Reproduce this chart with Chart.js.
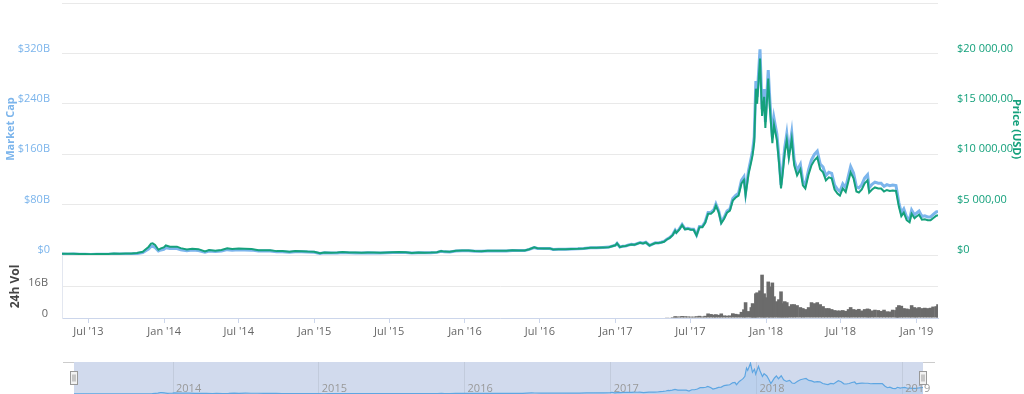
<!DOCTYPE html>
<html>
<head>
<meta charset="utf-8">
<script src="https://cdn.jsdelivr.net/npm/chart.js@4.4.1/dist/chart.umd.min.js"></script>
<style>
  html, body { margin: 0; padding: 0; background: #fff; overflow: hidden; }
  #main-wrap { position: absolute; left: 0; top: 0; width: 1024px; height: 345px; }
  #nav-wrap  { position: absolute; left: 0; top: 356px; width: 1024px; height: 50px; }
</style>
</head>
<body>
<div id="main-wrap"><canvas id="main-chart" width="1024" height="345"></canvas></div>
<div id="nav-wrap"><canvas id="nav-chart" width="1024" height="50"></canvas></div>
<script>
// ─── Data ───
const dates = [
  '2013-04-28','2013-05-12','2013-05-26','2013-06-09','2013-06-23','2013-07-07','2013-07-21','2013-08-04','2013-08-18','2013-09-01','2013-09-15','2013-09-29','2013-10-13','2013-10-27','2013-11-10','2013-11-18','2013-11-24','2013-11-30','2013-12-04','2013-12-10','2013-12-18','2013-12-24','2013-12-31',
  '2014-01-05','2014-01-15','2014-02-01','2014-02-10','2014-02-25','2014-03-10','2014-03-25','2014-04-10','2014-04-20','2014-05-05','2014-05-20','2014-06-03','2014-06-15','2014-07-01','2014-07-15','2014-08-01','2014-08-18','2014-09-01','2014-09-15','2014-10-01','2014-10-15','2014-11-01','2014-11-15','2014-12-01','2014-12-15','2014-12-31',
  '2015-01-14','2015-01-25','2015-02-10','2015-02-25','2015-03-10','2015-03-25','2015-04-10','2015-04-25','2015-05-10','2015-05-25','2015-06-10','2015-06-25','2015-07-10','2015-07-25','2015-08-10','2015-08-25','2015-09-10','2015-09-25','2015-10-10','2015-10-25','2015-11-04','2015-11-12','2015-11-25','2015-12-10','2015-12-25',
  '2016-01-10','2016-01-25','2016-02-10','2016-02-25','2016-03-10','2016-03-25','2016-04-10','2016-04-25','2016-05-10','2016-05-25','2016-06-05','2016-06-17','2016-06-25','2016-07-10','2016-07-25','2016-08-02','2016-08-15','2016-09-01','2016-09-15','2016-10-01','2016-10-15','2016-11-01','2016-11-15','2016-12-01','2016-12-15','2016-12-31',
  '2017-01-04','2017-01-11','2017-01-18','2017-01-25','2017-02-01','2017-02-08','2017-02-15','2017-02-22','2017-03-01','2017-03-08','2017-03-15','2017-03-24','2017-03-31','2017-04-07','2017-04-14','2017-04-21','2017-04-28','2017-05-05','2017-05-12','2017-05-19','2017-05-25','2017-05-28','2017-06-04','2017-06-11','2017-06-18','2017-06-25','2017-07-02','2017-07-09','2017-07-16','2017-07-23','2017-07-30','2017-08-06','2017-08-13','2017-08-20','2017-08-27','2017-09-01','2017-09-08','2017-09-14','2017-09-21','2017-09-28','2017-10-05','2017-10-12','2017-10-19','2017-10-26','2017-11-02','2017-11-08','2017-11-12','2017-11-19','2017-11-26','2017-11-29','2017-12-03','2017-12-07','2017-12-10','2017-12-17','2017-12-22','2017-12-27','2017-12-30',
  '2018-01-06','2018-01-10','2018-01-16','2018-01-20','2018-01-27','2018-02-01','2018-02-06','2018-02-10','2018-02-15','2018-02-20','2018-02-25','2018-03-04','2018-03-10','2018-03-17','2018-03-25','2018-03-31','2018-04-06','2018-04-14','2018-04-21','2018-04-28','2018-05-05','2018-05-12','2018-05-19','2018-05-26','2018-06-02','2018-06-09','2018-06-16','2018-06-23','2018-06-29','2018-07-06','2018-07-13','2018-07-20','2018-07-25','2018-08-01','2018-08-08','2018-08-14','2018-08-21','2018-08-28','2018-09-04','2018-09-08','2018-09-15','2018-09-22','2018-09-30','2018-10-07','2018-10-14','2018-10-21','2018-10-28','2018-11-04','2018-11-12','2018-11-15','2018-11-19','2018-11-25','2018-12-01','2018-12-08','2018-12-15','2018-12-20','2018-12-27','2018-12-31',
  '2019-01-07','2019-01-14','2019-01-21','2019-01-28','2019-02-04','2019-02-10','2019-02-18','2019-02-22'
];

// price, USD
const price = [
  135,115,133,100,103,77,91,105,99,138,130,141,137,191,313,600,800,1130,1150,1000,520,660,750,
  950,830,830,680,540,630,580,360,500,430,490,660,590,640,620,590,470,475,475,385,395,325,395,380,345,320,
  178,255,220,237,291,247,236,226,242,237,229,243,269,289,265,210,240,235,246,283,403,336,328,415,455,
  448,392,381,425,415,417,422,461,451,449,575,756,665,648,655,548,567,573,607,614,640,729,711,753,780,963,
  1154,785,870,890,980,1050,1010,1120,1222,1150,1245,937,1071,1190,1180,1240,1317,1540,1700,1960,2400,2200,2510,2960,2540,2590,2500,2500,1930,2750,2750,3200,4100,4100,4350,4900,4200,3150,3600,4200,4400,5400,5700,5900,7100,7450,5950,8000,9300,9900,11200,16500,15000,19500,13800,15700,12600,
  17500,14600,11100,12900,11400,9200,6600,8100,10100,11400,9600,11500,8900,7900,8500,6900,6600,8000,8900,9400,9700,8500,8200,7400,7700,7600,6500,6100,5900,6600,6250,7400,8200,7600,6300,6200,6500,7100,7400,6200,6500,6700,6600,6600,6300,6450,6350,6400,6350,5700,4800,3850,4200,3450,3250,4100,3650,3800,
  4000,3500,3550,3450,3450,3650,3900,3950
];

// market cap, billions USD
const mcap = [
  1.50,1.28,1.49,1.13,1.16,0.87,1.04,1.20,1.14,1.59,1.51,1.65,1.61,2.25,3.72,7.17,9.58,13.56,13.82,12.04,6.28,7.99,9.09,
  11.54,10.13,10.21,8.40,6.70,7.84,7.25,4.54,6.33,5.46,6.25,8.48,7.61,8.29,8.06,7.73,6.18,6.27,6.29,5.12,5.27,4.36,5.31,5.13,4.67,4.35,
  2.43,3.49,3.03,3.27,4.03,3.43,3.29,3.16,3.40,3.34,3.24,3.45,3.83,4.13,3.80,3.02,3.48,3.42,3.59,4.16,5.94,4.97,4.87,6.18,6.83,
  6.74,5.92,5.79,6.48,6.35,6.40,6.52,7.15,7.01,7.00,9.00,11.87,10.45,10.21,10.34,8.66,8.98,9.09,9.65,9.78,10.21,11.66,11.39,12.09,12.54,15.50,
  18.58,12.65,14.02,14.36,15.83,16.98,16.34,18.14,19.81,18.65,20.21,15.22,17.40,19.35,19.20,20.19,21.47,25.12,27.74,32.01,39.22,35.97,41.06,48.46,41.61,42.45,41.03,41.05,31.73,45.24,45.29,52.77,67.65,67.73,71.91,81.05,69.55,52.20,59.69,69.72,73.08,89.75,94.79,98.18,118.3,124.2,99.2,133.5,155.4,165.5,187.4,276.2,251.1,326.6,231.3,263.3,211.3,
  293.7,245.1,186.5,216.8,191.7,154.8,111.1,136.5,170.3,192.3,162.0,194.2,150.4,133.7,143.9,116.9,111.9,135.7,151.0,159.6,164.9,144.6,139.6,126.0,131.3,129.7,111.0,104.2,100.8,112.9,107.0,126.8,140.5,130.4,108.2,106.5,111.7,122.1,127.4,106.8,112.1,115.6,114.0,114.0,108.9,111.6,110.0,110.9,110.1,98.9,83.3,66.8,73.0,60.0,56.6,71.4,63.6,66.2,
  69.8,61.1,62.1,60.3,60.4,63.9,68.4,69.3
];

// 24h volume, billions USD — one value per date from 2017-01-04 on (invisible before May 2017)
const volStart = '2017-01-04';
const volume = [
  0,0,0,0,0,0,0,0,0,0,0,0,0,0,0,0,0,0.15,0.3,0.5,0.9,0.7,0.8,1.0,0.9,0.8,0.7,0.7,0.9,1.1,0.8,1.1,2.3,2.0,1.7,1.9,1.6,2.3,1.3,1.2,1.3,2.4,2.1,1.9,3.1,4.4,8.0,3.5,5.5,7.5,7.0,12.5,13.0,14.0,22.0,12.5,10.5,
  18.5,16.0,18.0,11.0,8.5,9.5,13.5,7.5,8.5,8.0,6.0,7.0,7.0,6.5,5.5,5.0,4.5,5.5,8.0,7.5,8.0,7.0,6.0,5.0,5.0,4.5,4.0,3.8,3.8,4.0,3.6,4.5,5.5,4.5,4.2,4.6,3.8,4.5,4.8,4.5,3.8,4.2,4.0,3.6,4.2,3.4,3.3,4.2,4.0,5.5,6.5,6.2,5.0,4.8,4.5,6.5,5.5,5.0,
  5.5,5.0,5.2,5.0,5.2,5.8,6.0,7.0
];

const xMin = '2013-04-28';
const xMax = '2019-02-22';
const xTickDates  = ['2013-07-01','2014-01-01','2014-07-01','2015-01-01','2015-07-01','2016-01-01','2016-07-01','2017-01-01','2017-07-01','2018-01-01','2018-07-01','2019-01-01'];
const xTickLabels = ["Jul '13","Jan '14","Jul '14","Jan '15","Jul '15","Jan '16","Jul '16","Jan '17","Jul '17","Jan '18","Jul '18","Jan '19"];
const navTickDates  = ['2014-01-01','2015-01-01','2016-01-01','2017-01-01','2018-01-01','2019-01-01'];
const navTickLabels = ['2014','2015','2016','2017','2018','2019'];

// ─── Style ───
const BLUE  = '#7cb5ec';
const GREEN = '#15a17c';
const GRID  = '#e9e9e9';
const AXIS  = '#ccd6eb';

Chart.defaults.font.family = '"Open Sans", sans-serif';
Chart.defaults.font.size = 11;
Chart.defaults.color = '#666';

const t = d => Date.parse(d);
const fmtPrice = v => v === 0 ? '$0' : '$' + String(v).replace(/\B(?=(\d{3})+(?!\d))/g, ' ') + ',00';

const mcapPts  = dates.map((d, i) => ({ x: t(d), y: mcap[i] }));
const pricePts = dates.map((d, i) => ({ x: t(d), y: price[i] }));
const v0 = dates.indexOf(volStart);
const volPts = volume.map((v, i) => ({ x: t(dates[v0 + i]), y: v }));

const fixW = w => s => { s.width = w; s.paddingTop = 0; s.paddingBottom = 0; };

// ─── Main chart ───
new Chart(document.getElementById('main-chart'), {
  type: 'line',
  data: {
    datasets: [
      { label: 'Price', data: pricePts, yAxisID: 'price', borderColor: GREEN, borderWidth: 2, pointRadius: 0, tension: 0 },
      { label: 'Market Cap', data: mcapPts, yAxisID: 'mcap', borderColor: BLUE, borderWidth: 3, pointRadius: 0, tension: 0 },
      { type: 'bar', label: '24h Vol', data: volPts, yAxisID: 'vol', backgroundColor: '#6b6b6b', barThickness: 3.6, inflateAmount: 0 },
    ],
  },
  options: {
    responsive: false,
    animation: false,
    layout: { padding: { top: 3, left: 0, right: 0, bottom: 0 } },
    plugins: { legend: { display: false }, tooltip: { enabled: false } },
    scales: {
      x: {
        type: 'linear', offset: false,
        min: t(xMin), max: t(xMax),
        afterBuildTicks: s => { s.ticks = xTickDates.map(d => ({ value: t(d) })); },
        afterFit: s => { s.height = 27; s.paddingLeft = 0; s.paddingRight = 0; },
        ticks: { autoSkip: false, maxRotation: 0, padding: 2, color: '#666', callback: (v, i) => xTickLabels[i] },
        grid: { offset: false, drawOnChartArea: false, drawTicks: true, tickLength: 5, color: AXIS },
        border: { display: true, color: AXIS },
      },
      mcap: {
        type: 'linear', position: 'left', stack: 'L', stackWeight: 252, weight: 2,
        min: 0, max: 400,
        afterBuildTicks: s => { s.ticks = [0, 80, 160, 240, 320, 400].map(v => ({ value: v })); },
        afterFit: fixW(62),
        ticks: { color: BLUE, padding: 12, labelOffset: -5, callback: v => v === 400 ? '' : (v === 0 ? '$0' : '$' + v + 'B') },
        grid: { color: GRID, drawTicks: false },
        border: { display: false },
        title: { display: true, text: 'Market Cap', color: BLUE, font: { size: 11, weight: 'bold' }, padding: 4 },
      },
      vol: {
        type: 'linear', position: 'left', stack: 'L', stackWeight: 63, weight: 1,
        min: 0, max: 32,
        afterBuildTicks: s => { s.ticks = [0, 16, 32].map(v => ({ value: v })); },
        afterFit: fixW(62),
        ticks: { color: '#666', padding: 14, labelOffset: -4, callback: v => v === 0 ? '0' : (v === 16 ? '16B' : '') },
        grid: { color: GRID, drawTicks: false },
        border: { display: true, color: '#e3e7f0' },
        title: { display: true, text: '24h Vol', color: '#444', font: { size: 12, weight: 'bold' }, padding: 8 },
      },
      price: {
        type: 'linear', position: 'right', stack: 'R', stackWeight: 252, weight: 1,
        min: 0, max: 25000,
        afterBuildTicks: s => { s.ticks = [0, 5000, 10000, 15000, 20000, 25000].map(v => ({ value: v })); },
        afterFit: fixW(86),
        ticks: { color: GREEN, padding: 11, labelOffset: -5, callback: v => v === 25000 ? '' : fmtPrice(v) },
        grid: { display: false },
        border: { display: false },
        title: { display: true, text: 'Price (USD)', color: GREEN, font: { size: 11, weight: 'bold' }, padding: 1 },
      },
      volR: {
        type: 'linear', position: 'right', stack: 'R', stackWeight: 63, weight: 2,
        display: false,
        afterFit: fixW(86),
      },
    },
  },
});

// ─── Navigator ───
const navPlugin = {
  id: 'navigator',
  beforeDraw(chart) {
    const { ctx, chartArea: a } = chart;
    ctx.save();
    ctx.fillStyle = 'rgba(102,133,194,0.3)';
    ctx.fillRect(a.left, a.top, a.right - a.left, a.bottom - a.top + 12);
    ctx.strokeStyle = '#cccccc';
    ctx.lineWidth = 1;
    ctx.beginPath();
    ctx.moveTo(63, a.top + 0.5); ctx.lineTo(a.left, a.top + 0.5);
    ctx.moveTo(a.right, a.top + 0.5); ctx.lineTo(935, a.top + 0.5);
    ctx.stroke();
    ctx.restore();
  },
  afterDraw(chart) {
    const { ctx, chartArea: a, scales } = chart;
    ctx.save();
    // year labels, placed by the x scale
    ctx.font = '11px "Open Sans", sans-serif';
    ctx.fillStyle = '#999';
    ctx.textAlign = 'left';
    ctx.textBaseline = 'middle';
    navTickDates.forEach((d, i) => {
      ctx.fillText(navTickLabels[i], scales.x.getPixelForValue(t(d)) + 3, a.bottom - 5);
    });
    // handles
    [a.left, a.right].forEach(x => {
      const l = Math.round(x) - 3.5, top = a.top + 9.5;
      ctx.fillStyle = '#f2f2f2';
      ctx.strokeStyle = '#999';
      ctx.lineWidth = 1;
      ctx.fillRect(l, top, 7, 13);
      ctx.strokeRect(l, top, 7, 13);
      ctx.beginPath();
      ctx.moveTo(l + 2.5, top + 3); ctx.lineTo(l + 2.5, top + 10);
      ctx.moveTo(l + 4.5, top + 3); ctx.lineTo(l + 4.5, top + 10);
      ctx.stroke();
    });
    ctx.restore();
  },
};

new Chart(document.getElementById('nav-chart'), {
  type: 'line',
  data: {
    datasets: [{
      data: mcapPts, borderColor: '#5ea6e2', borderWidth: 1.2, pointRadius: 0, tension: 0,
      fill: 'origin', backgroundColor: 'rgba(124,181,236,0.25)',
    }],
  },
  options: {
    responsive: false,
    animation: false,
    layout: { padding: { top: 6, left: 74, right: 101, bottom: 0 } },
    plugins: { legend: { display: false }, tooltip: { enabled: false }, filler: { propagate: false } },
    scales: {
      x: {
        type: 'linear', min: t(xMin), max: t(xMax),
        afterBuildTicks: s => { s.ticks = navTickDates.map(d => ({ value: t(d) })); },
        afterFit: s => { s.height = 12; s.paddingLeft = 0; s.paddingRight = 0; },
        ticks: { display: false },
        grid: { color: 'rgba(0,0,0,0.07)', drawTicks: false },
        border: { display: false },
      },
      y: { display: false, min: 0, max: 340 },
    },
  },
  plugins: [navPlugin],
});
</script>
</body>
</html>
